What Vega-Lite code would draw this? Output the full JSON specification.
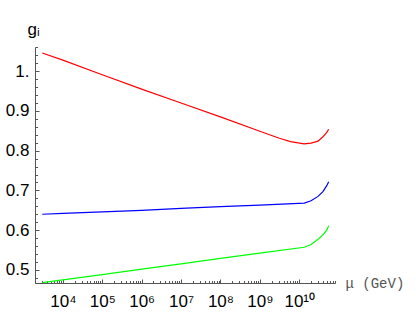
{
  "$schema": "https://vega.github.io/schema/vega-lite/v6.json",
  "width": 300,
  "height": 236,
  "autosize": "none",
  "padding": {"left": 35, "top": 47, "right": 81, "bottom": 50},
  "background": "white",
  "config": {"view": {"stroke": null}, "font": "Liberation Sans"},
  "data": {
    "values": [
      {"mu": 3000, "g": 1.046, "s": "g3"},
      {"mu": 10000, "g": 1.028, "s": "g3"},
      {"mu": 100000, "g": 0.991, "s": "g3"},
      {"mu": 1000000, "g": 0.955, "s": "g3"},
      {"mu": 10000000, "g": 0.920, "s": "g3"},
      {"mu": 100000000, "g": 0.885, "s": "g3"},
      {"mu": 1000000000, "g": 0.849, "s": "g3"},
      {"mu": 3000000000, "g": 0.832, "s": "g3"},
      {"mu": 6000000000, "g": 0.823, "s": "g3"},
      {"mu": 13400000000, "g": 0.817, "s": "g3"},
      {"mu": 20000000000, "g": 0.819, "s": "g3"},
      {"mu": 30000000000, "g": 0.824, "s": "g3"},
      {"mu": 40000000000, "g": 0.835, "s": "g3"},
      {"mu": 50000000000, "g": 0.846, "s": "g3"},
      {"mu": 56000000000, "g": 0.854, "s": "g3"},
      {"mu": 3000, "g": 0.640, "s": "g2"},
      {"mu": 10000, "g": 0.642, "s": "g2"},
      {"mu": 100000, "g": 0.646, "s": "g2"},
      {"mu": 1000000, "g": 0.650, "s": "g2"},
      {"mu": 10000000, "g": 0.655, "s": "g2"},
      {"mu": 100000000, "g": 0.659, "s": "g2"},
      {"mu": 1000000000, "g": 0.663, "s": "g2"},
      {"mu": 13400000000, "g": 0.668, "s": "g2"},
      {"mu": 20000000000, "g": 0.674, "s": "g2"},
      {"mu": 30000000000, "g": 0.685, "s": "g2"},
      {"mu": 40000000000, "g": 0.697, "s": "g2"},
      {"mu": 50000000000, "g": 0.712, "s": "g2"},
      {"mu": 56000000000, "g": 0.722, "s": "g2"},
      {"mu": 3000, "g": 0.468, "s": "g1"},
      {"mu": 10000, "g": 0.475, "s": "g1"},
      {"mu": 100000, "g": 0.488, "s": "g1"},
      {"mu": 1000000, "g": 0.502, "s": "g1"},
      {"mu": 10000000, "g": 0.515, "s": "g1"},
      {"mu": 100000000, "g": 0.529, "s": "g1"},
      {"mu": 1000000000, "g": 0.542, "s": "g1"},
      {"mu": 13400000000, "g": 0.557, "s": "g1"},
      {"mu": 20000000000, "g": 0.564, "s": "g1"},
      {"mu": 30000000000, "g": 0.577, "s": "g1"},
      {"mu": 40000000000, "g": 0.588, "s": "g1"},
      {"mu": 50000000000, "g": 0.600, "s": "g1"},
      {"mu": 56000000000, "g": 0.611, "s": "g1"}
    ]
  },
  "mark": {"type": "line", "strokeWidth": 1.2, "clip": true},
  "encoding": {
    "x": {
      "field": "mu",
      "type": "quantitative",
      "scale": {"type": "log", "domain": [1963, 81000000000], "nice": false, "zero": false},
      "axis": {
        "title": "μ  (GeV)",
        "titleFont": "Liberation Mono",
        "titleFontSize": 14,
        "titleFontWeight": "normal",
        "titleColor": "#555555",
        "titleX": 310,
        "titleY": 0,
        "titleAlign": "left",
        "titleBaseline": "middle",
        "titleAnchor": null,
        "values": [2000,3000,4000,5000,6000,7000,8000,9000,
          10000,20000,30000,40000,50000,60000,70000,80000,90000,
          100000,200000,300000,400000,500000,600000,700000,800000,900000,
          1000000,2000000,3000000,4000000,5000000,6000000,7000000,8000000,9000000,
          10000000,20000000,30000000,40000000,50000000,60000000,70000000,80000000,90000000,
          100000000,200000000,300000000,400000000,500000000,600000000,700000000,800000000,900000000,
          1000000000,2000000000,3000000000,4000000000,5000000000,6000000000,7000000000,8000000000,9000000000,
          10000000000,20000000000,30000000000,40000000000,50000000000,60000000000,70000000000,80000000000],
        "labelExpr": "abs(log(datum.value)/LN10 - round(log(datum.value)/LN10)) < 0.001 ? '10' + ['⁰','¹','²','³','⁴','⁵','⁶','⁷','⁸','⁹','¹⁰'][round(log(datum.value)/LN10)] : ''",
        "labelFontSize": 17,
        "labelColor": "black",
        "labelFlush": false,
        "labelOverlap": false,
        "labelPadding": 14,
        "labelBaseline": "top",
        "grid": false,
        "domainColor": "#555555",
        "tickColor": "#555555",
        "tickSize": {"condition": {"test": "abs(log(datum.value)/LN10 - round(log(datum.value)/LN10)) < 0.001", "value": -4}, "value": -2.5}
      }
    },
    "y": {
      "field": "g",
      "type": "quantitative",
      "scale": {"domain": [0.467, 1.061], "nice": false, "zero": false},
      "axis": {
        "title": "gᵢ",
        "titleFontSize": 17,
        "titleFontWeight": "normal",
        "titleColor": "black",
        "titleAngle": 0,
        "titleX": -2,
        "titleY": -13,
        "titleAlign": "center",
        "titleBaseline": "alphabetic",
        "titleAnchor": null,
        "values": [0.48,0.5,0.52,0.54,0.56,0.58,0.6,0.62,0.64,0.66,0.68,0.7,0.72,0.74,0.76,0.78,0.8,0.82,0.84,0.86,0.88,0.9,0.92,0.94,0.96,0.98,1.0,1.02,1.04,1.06],
        "labelExpr": "abs(datum.value*10 - round(datum.value*10)) < 0.001 ? (abs(datum.value - 1) < 0.001 ? '1.' : format(datum.value, '.1f')) : ''",
        "labelFontSize": 17,
        "labelColor": "black",
        "labelFlush": false,
        "labelOverlap": false,
        "labelPadding": 10,
        "grid": false,
        "domainColor": "#555555",
        "tickColor": "#555555",
        "tickSize": {"condition": {"test": "abs(datum.value*10 - round(datum.value*10)) < 0.001", "value": -4}, "value": -2.5}
      }
    },
    "color": {
      "field": "s",
      "type": "nominal",
      "scale": {"domain": ["g3", "g2", "g1"], "range": ["#ff0000", "#0000ff", "#00ff00"]},
      "legend": null
    }
  }
}
